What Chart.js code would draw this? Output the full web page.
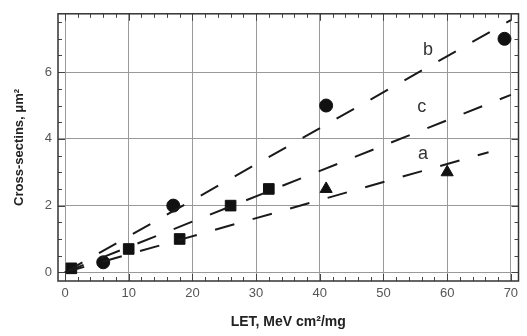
<!DOCTYPE html>
<html>
<head>
<meta charset="utf-8">
<script src="https://cdn.jsdelivr.net/npm/chart.js@4.4.1/dist/chart.umd.min.js"></script>
<style>
  body { margin: 0; background: #fff; }
  #wrap { width: 527px; height: 336px; }
</style>
</head>
<body>
<div id="wrap"><canvas id="myChart" width="527" height="336"></canvas></div>
<script>
// measured points (LET, cross-section)
const circlesB = [[6, 0.3], [17, 2.0], [41, 5.0], [69, 7.0]];
const squaresC = [[1, 0.12], [10, 0.7], [18, 1.0], [26, 2.0], [32, 2.5]];
const trianglesA = [[41, 2.5], [60, 3.0]];

// fitted lines (start / end)
const lineB = [[0, 0], [70, 7.56]];
const lineC = [[0, 0], [70, 5.32]];
const lineA = [[0, 0], [66.5, 3.6]];

// curve labels
const curveNames = ['b', 'c', 'a'];
const curveLabelAt = [[57, 6.65], [56, 4.95], [56.2, 3.56]];

const xTicks = [0, 10, 20, 30, 40, 50, 60, 70];
const yTicks = [0, 2, 4, 6];
const xMinorStep = 2;
const yMinorStep = 0.5;

const toXY = arr => arr.map(p => ({ x: p[0], y: p[1] }));

function lineSet(pts) {
  return {
    data: toXY(pts),
    showLine: true,
    borderColor: '#1a1a1a',
    borderWidth: 2,
    borderDash: [20, 19],
    pointRadius: 0,
    fill: false
  };
}
function markSet(pts, style, r) {
  return {
    data: toXY(pts),
    showLine: false,
    pointStyle: style,
    pointRadius: r,
    backgroundColor: '#111',
    borderColor: '#111',
    borderWidth: 1
  };
}

// ticks pointing inward on all four sides + frame + curve names
const frameTicks = {
  id: 'frameTicks',
  afterDraw(chart) {
    const { ctx, chartArea: a, scales: { x, y } } = chart;
    ctx.save();
    ctx.strokeStyle = '#444';
    ctx.lineWidth = 1;
    for (let v = xTicks[0]; v <= x.max; v += xMinorStep) {
      const px = Math.round(x.getPixelForValue(v)) + 0.5;
      const len = xTicks.includes(v) ? 7 : 4;
      ctx.beginPath();
      ctx.moveTo(px, a.bottom); ctx.lineTo(px, a.bottom - len);
      ctx.moveTo(px, a.top); ctx.lineTo(px, a.top + len);
      ctx.stroke();
    }
    for (let v = yTicks[0]; v <= y.max; v += yMinorStep) {
      const py = Math.round(y.getPixelForValue(v)) + 0.5;
      const len = yTicks.includes(v) ? 7 : 4;
      ctx.beginPath();
      ctx.moveTo(a.left, py); ctx.lineTo(a.left + len, py);
      ctx.moveTo(a.right, py); ctx.lineTo(a.right - len, py);
      ctx.stroke();
    }
    ctx.strokeStyle = '#333';
    ctx.lineWidth = 1.5;
    ctx.strokeRect(a.left, a.top, a.right - a.left, a.bottom - a.top);

    ctx.fillStyle = '#333';
    ctx.font = '18px "Liberation Sans", Arial, sans-serif';
    ctx.textAlign = 'center';
    ctx.textBaseline = 'middle';
    curveNames.forEach((n, i) => {
      ctx.fillText(n, x.getPixelForValue(curveLabelAt[i][0]), y.getPixelForValue(curveLabelAt[i][1]));
    });
    ctx.restore();
  }
};

const ctx = document.getElementById('myChart').getContext('2d');
const myChart = new Chart(ctx, {
  type: 'scatter',
  data: {
    datasets: [
      lineSet(lineB), lineSet(lineC), lineSet(lineA),
      markSet(circlesB, 'circle', 6.5), markSet(squaresC, 'rect', 7.5), markSet(trianglesA, 'triangle', 7)
    ]
  },
  options: {
    responsive: false,
    animation: false,
    layout: { padding: { top: 7, right: 4, left: 0, bottom: 0 } },
    plugins: { legend: { display: false }, tooltip: { enabled: false } },
    scales: {
      x: {
        type: 'linear',
        min: -1.1,
        max: 71.2,
        afterBuildTicks: s => { s.ticks = xTicks.map(v => ({ value: v })); },
        afterFit: s => { s.height = 55; },
        grid: { color: '#999', lineWidth: 1, drawTicks: false },
        border: { display: false },
        ticks: {
          padding: 5,
          color: '#555',
          font: { family: '"Liberation Sans", Arial, sans-serif', size: 13 }
        },
        title: {
          display: true,
          text: 'LET, MeV cm²/mg',
          color: '#222',
          font: { family: '"Liberation Sans", Arial, sans-serif', size: 14, weight: 'bold' },
          padding: { top: 0, bottom: 5 }
        }
      },
      y: {
        type: 'linear',
        min: -0.26,
        max: 7.75,
        afterBuildTicks: s => { s.ticks = yTicks.map(v => ({ value: v })); },
        afterFit: s => { s.width = 58; },
        grid: { color: '#999', lineWidth: 1, drawTicks: false },
        border: { display: false },
        ticks: {
          padding: 6,
          color: '#555',
          font: { family: '"Liberation Sans", Arial, sans-serif', size: 13 }
        },
        title: {
          display: true,
          text: 'Cross-sectins, μm²',
          color: '#222',
          font: { family: '"Liberation Sans", Arial, sans-serif', size: 13, weight: 'bold' },
          padding: { top: 12, bottom: 0 }
        }
      }
    }
  },
  plugins: [frameTicks]
});
</script>
</body>
</html>
